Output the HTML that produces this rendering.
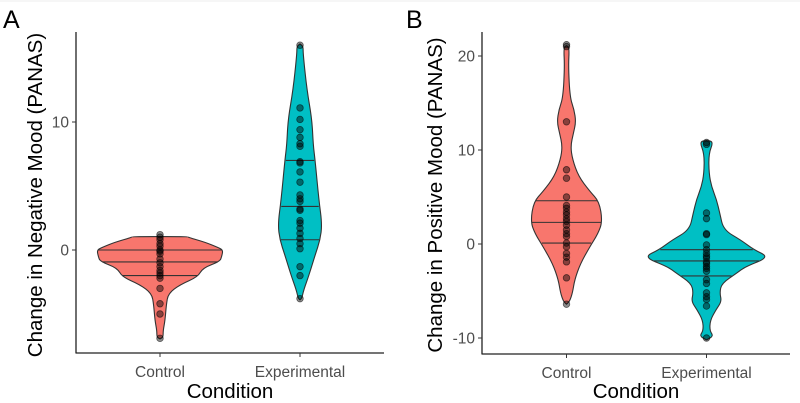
<!DOCTYPE html>
<html><head><meta charset="utf-8"><style>
body{margin:0;background:#fff;}
svg{display:block;font-family:"Liberation Sans",Arial,sans-serif;}
</style></head><body>
<svg id="chart" width="800" height="403" viewBox="0 0 800 403">
<line x1="0" y1="1" x2="800" y2="1" stroke="#eeeeee"/>
</svg>
<script>
// ---------- Data ----------
const categories = ["Control", "Experimental"];
// Panel A: Negative mood
const aTicks = [0, 10];
const aCtrlPoints = [1.2,1,0.8,0.5,0.3,0,-0.1,-0.3,-0.7,-1,-1.3,-1.6,-1.8,-2,-2.2,-3,-4.2,-5,-6.9];
const aExpPoints = [16,11.1,10.2,9.4,8.8,8.3,8.1,6.9,6.8,6.1,5.3,4.3,4.0,3.8,3.2,3.1,2.3,2.1,1.7,1.3,0.9,0.5,0.1,-1.3,-2,-3.8];
const aCtrlDensY = [1.05,1.0,0.6,0.2,0,-0.5,-0.9,-1.4,-2.1,-2.7,-3.4,-4.3,-5.5,-6.3,-6.8,-6.95];
const aCtrlDensW = [0.44,0.44,0.72,0.92,1.0,0.98,0.95,0.68,0.6,0.32,0.13,0.1,0.08,0.05,0.05,0];
const aExpDensY = [16.1,15.9,15.3,12.5,10.2,8.2,7.0,3.9,2.0,0.8,-0.4,-2,-3.1,-3.75,-3.9];
const aExpDensW = [0,0.05,0.05,0.11,0.19,0.21,0.24,0.3,0.35,0.32,0.24,0.14,0.06,0.03,0];
const aCtrlQuant = [0, -0.93, -2.0];
const aExpQuant = [7.0, 3.4, 0.8];
// Panel B: Positive mood
const bTicks = [-10, 0, 10, 20];
const bCtrlPoints = [21.2,21.0,13,7.9,7.0,5.0,4.1,3.8,3.4,3.1,2.7,2.4,2.0,1.5,1.1,0.8,0.1,-0.3,-1,-1.4,-1.9,-3.6,-6.4];
const bExpPoints = [10.8,10.6,3.3,2.7,1.1,1.0,-0.1,-0.6,-1,-1.3,-1.5,-1.9,-2.1,-2.4,-2.6,-2.9,-3.8,-4.2,-5.2,-5.6,-5.9,-6.6,-10.0];
const bCtrlDensY = [21.1,20.9,18.9,15.6,14.3,13.0,11.8,10.4,9.0,7.2,5.6,4.5,2.4,1.1,-0.3,-2.1,-3.8,-5.2,-6.1,-6.4];
const bCtrlDensW = [0,0.045,0.03,0.055,0.12,0.15,0.11,0.065,0.095,0.19,0.37,0.52,0.57,0.5,0.37,0.22,0.13,0.095,0.05,0];
const bExpDensY = [11.0,10.9,9.6,7.5,6.1,4.7,3.3,1.5,0.4,-0.6,-1.4,-2.4,-3.1,-4.2,-5.2,-6.1,-7.0,-8.1,-9.2,-9.8,-10.2];
const bExpDensW = [0,0.11,0.035,0.04,0.08,0.16,0.21,0.27,0.55,0.75,1.0,0.62,0.48,0.24,0.21,0.24,0.15,0.06,0.05,0.11,0];
const bCtrlQuant = [4.6, 2.3, 0.1];
const bExpQuant = [-0.6, -1.8, -3.4];

const NS = "http://www.w3.org/2000/svg";
const svg = document.getElementById("chart");
function mk(tag, attrs, parent) {
  const e = document.createElementNS(NS, tag);
  for (const k in attrs) e.setAttribute(k, attrs[k]);
  (parent || svg).appendChild(e);
  return e;
}
function interp(ys, ws, v) {
  for (let i = 0; i < ys.length - 1; i++) {
    const a = ys[i], b = ys[i+1];
    if ((v <= a && v >= b)) { const t = (a - v) / (a - b); return ws[i] + t * (ws[i+1] - ws[i]); }
  }
  return 0;
}
function smoothPath(pts) {
  // quadratic midpoint smoothing of a closed polygon
  const n = pts.length;
  const mid = (p, q) => [(p[0] + q[0]) / 2, (p[1] + q[1]) / 2];
  let m0 = mid(pts[n - 1], pts[0]);
  let d = "M" + m0[0].toFixed(2) + "," + m0[1].toFixed(2);
  for (let i = 0; i < n; i++) {
    const p = pts[i], m = mid(p, pts[(i + 1) % n]);
    d += "Q" + p[0].toFixed(2) + "," + p[1].toFixed(2) + " " + m[0].toFixed(2) + "," + m[1].toFixed(2);
  }
  return d + "Z";
}

function panel(cfg) {
  const g = mk("g", {});
  
  
  const y = v => cfg.y0 - v * cfg.ppu;
  const xc = i => cfg.xs[i];
  const ax = mk("line", {x1: cfg.left, y1: cfg.top, x2: cfg.left, y2: cfg.bottom + 0.5, stroke: "#222", "stroke-width": 1.3}, g);
  
  
  const bx = mk("line", {x1: cfg.left, y1: cfg.bottom, x2: cfg.right, y2: cfg.bottom, stroke: "#222", "stroke-width": 1.3}, g);
  
  
  cfg.ticks.forEach(t => {
    const tl = mk("line", {x1: cfg.left - 4, y1: y(t), x2: cfg.left, y2: y(t), stroke: "#333", "stroke-width": 1}, g);
    
    
    const tx = mk("text", {x: cfg.left - 7, y: y(t) + 5.5, "text-anchor": "end", "font-size": 15.5, fill: "#4d4d4d"}, g);
    tx.textContent = String(t);
    
    
  });
  categories.forEach((c, i) => {
    const tl = mk("line", {x1: xc(i), y1: cfg.bottom, x2: xc(i), y2: cfg.bottom + 4, stroke: "#333", "stroke-width": 1}, g);
    
    
    const tx = mk("text", {x: xc(i), y: cfg.bottom + 24, "text-anchor": "middle", "font-size": 15.5, fill: "#4d4d4d"}, g);
    tx.textContent = c;
    
    
  });
  const xt = mk("text", {x: (cfg.left + cfg.right) / 2, y: 398, "text-anchor": "middle", "font-size": 20.5, fill: "#000"}, g);
  xt.textContent = "Condition";
  
  
  const yt = mk("text", {x: 0, y: 0, "text-anchor": "middle", "font-size": 20.5, fill: "#000", transform: `translate(${cfg.ytitleX},195) rotate(-90)`}, g);
  yt.textContent = cfg.ytitle;
  
  
  const lt = mk("text", {x: cfg.letterX, y: 28, "font-size": 25, fill: "#000"}, g);
  lt.textContent = cfg.letter;
  
  

  const colors = ["#F8766D", "#00BFC4"];
  cfg.groups.forEach((grp, i) => {
    const cx = xc(i);
    const W = cfg.maxHW;
    const pts = [];
    grp.dy.forEach((v, k) => pts.push([cx + grp.dw[k] * W, y(v)]));
    for (let k = grp.dy.length - 1; k >= 0; k--) pts.push([cx - grp.dw[k] * W, y(grp.dy[k])]);
    const vp = mk("path", {d: smoothPath(pts), fill: colors[i], stroke: "#333", "stroke-width": 1.1, "stroke-linejoin": "round"}, g);
    
    
    grp.q.forEach(q => {
      const w = interp(grp.dy, grp.dw, q) * W - 1;
      const ql = mk("line", {x1: cx - w, y1: y(q), x2: cx + w, y2: y(q), stroke: "#333", "stroke-width": 1.1}, g);
      
      
    });
    grp.pts.forEach(p => {
      const c = mk("circle", {cx: cx, cy: y(p), r: 3.3, fill: "rgba(0,0,0,0.45)", stroke: "rgba(0,0,0,0.55)", "stroke-width": 0.8}, g);
      
      
    });
  });
}

panel({name: "panel-a-negative-mood", letter: "A", letterX: 3, left: 76, right: 384, top: 32, bottom: 353,
  y0: 250, ppu: 12.8, xs: [160, 300], maxHW: 63, ticks: aTicks, ytitle: "Change in Negative Mood (PANAS)", ytitleX: 42,
  groups: [{dy: aCtrlDensY, dw: aCtrlDensW, q: aCtrlQuant, pts: aCtrlPoints},
           {dy: aExpDensY, dw: aExpDensW, q: aExpQuant, pts: aExpPoints}]});
panel({name: "panel-b-positive-mood", letter: "B", letterX: 406, left: 482, right: 790, top: 32, bottom: 354,
  y0: 244, ppu: 9.4, xs: [566.5, 706.5], maxHW: 63, ticks: bTicks, ytitle: "Change in Positive Mood (PANAS)", ytitleX: 442,
  groups: [{dy: bCtrlDensY, dw: bCtrlDensW, q: bCtrlQuant, pts: bCtrlPoints},
           {dy: bExpDensY, dw: bExpDensW, q: bExpQuant, pts: bExpPoints}]});
</script>
</body></html>
